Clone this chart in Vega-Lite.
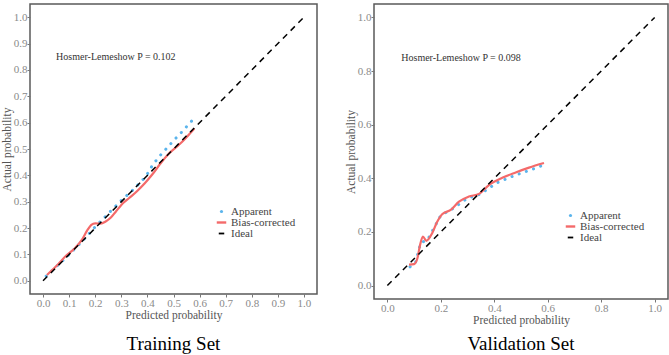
{
  "$schema": "https://vega.github.io/schema/vega-lite/v6.json",
  "background": "white",
  "padding": {"left": 0, "top": 3, "right": 1, "bottom": 0},
  "spacing": 26,
  "config": {
    "view": {"stroke": "#5a5a5a", "strokeWidth": 1.5},
    "axis": {
      "grid": false,
      "domain": false,
      "tickColor": "#777777",
      "tickSize": 3,
      "labelFont": "Liberation Serif",
      "labelFontSize": 11,
      "labelColor": "#8a8a8a",
      "labelPadding": 0,
      "titleFont": "Liberation Serif",
      "titleFontSize": 11.5,
      "titleFontWeight": "normal",
      "titleColor": "#555555",
      "titlePadding": 1
    },
    "axisX": {"titlePadding": 1},
    "legend": {
      "labelFont": "Liberation Serif",
      "labelFontSize": 11,
      "labelColor": "#444444",
      "rowPadding": -2,
      "symbolOffset": 0
    },
    "title": {
      "font": "Liberation Serif",
      "fontSize": 19,
      "fontWeight": "normal",
      "color": "#000000",
      "orient": "bottom",
      "anchor": "middle",
      "frame": "group"
    }
  },
  "datasets": {
    "training": [
      {"curve": "Apparent", "p": 0.012, "a": 0.018},
      {"curve": "Apparent", "p": 0.06, "a": 0.062},
      {"curve": "Apparent", "p": 0.1, "a": 0.1},
      {"curve": "Apparent", "p": 0.15, "a": 0.15},
      {"curve": "Apparent", "p": 0.2, "a": 0.205},
      {"curve": "Apparent", "p": 0.257, "a": 0.262},
      {"curve": "Apparent", "p": 0.3, "a": 0.305},
      {"curve": "Apparent", "p": 0.345, "a": 0.345},
      {"curve": "Apparent", "p": 0.384, "a": 0.385},
      {"curve": "Apparent", "p": 0.403, "a": 0.41},
      {"curve": "Apparent", "p": 0.42, "a": 0.44},
      {"curve": "Apparent", "p": 0.457, "a": 0.485},
      {"curve": "Apparent", "p": 0.479, "a": 0.508},
      {"curve": "Apparent", "p": 0.5, "a": 0.532},
      {"curve": "Apparent", "p": 0.523, "a": 0.555},
      {"curve": "Apparent", "p": 0.544, "a": 0.578},
      {"curve": "Apparent", "p": 0.564, "a": 0.6},
      {"curve": "Apparent", "p": 0.584, "a": 0.622},
      {"curve": "Bias-corrected", "p": 0.015, "a": 0.022},
      {"curve": "Bias-corrected", "p": 0.05, "a": 0.055},
      {"curve": "Bias-corrected", "p": 0.09, "a": 0.097},
      {"curve": "Bias-corrected", "p": 0.12, "a": 0.122},
      {"curve": "Bias-corrected", "p": 0.15, "a": 0.157},
      {"curve": "Bias-corrected", "p": 0.17, "a": 0.192},
      {"curve": "Bias-corrected", "p": 0.185, "a": 0.212},
      {"curve": "Bias-corrected", "p": 0.2, "a": 0.218},
      {"curve": "Bias-corrected", "p": 0.22, "a": 0.217},
      {"curve": "Bias-corrected", "p": 0.24, "a": 0.225},
      {"curve": "Bias-corrected", "p": 0.26, "a": 0.24},
      {"curve": "Bias-corrected", "p": 0.28, "a": 0.264},
      {"curve": "Bias-corrected", "p": 0.3, "a": 0.288},
      {"curve": "Bias-corrected", "p": 0.33, "a": 0.314},
      {"curve": "Bias-corrected", "p": 0.36, "a": 0.34},
      {"curve": "Bias-corrected", "p": 0.39, "a": 0.37},
      {"curve": "Bias-corrected", "p": 0.42, "a": 0.405},
      {"curve": "Bias-corrected", "p": 0.45, "a": 0.445},
      {"curve": "Bias-corrected", "p": 0.48, "a": 0.48},
      {"curve": "Bias-corrected", "p": 0.52, "a": 0.515},
      {"curve": "Bias-corrected", "p": 0.55, "a": 0.545},
      {"curve": "Bias-corrected", "p": 0.58, "a": 0.578},
      {"curve": "Ideal", "p": 0, "a": 0},
      {"curve": "Ideal", "p": 1, "a": 1}
    ],
    "validation": [
      {"curve": "Apparent", "p": 0.085, "a": 0.07},
      {"curve": "Apparent", "p": 0.105, "a": 0.085},
      {"curve": "Apparent", "p": 0.125, "a": 0.16},
      {"curve": "Apparent", "p": 0.15, "a": 0.17},
      {"curve": "Apparent", "p": 0.2, "a": 0.262},
      {"curve": "Apparent", "p": 0.25, "a": 0.29},
      {"curve": "Apparent", "p": 0.3, "a": 0.326},
      {"curve": "Apparent", "p": 0.345, "a": 0.34},
      {"curve": "Apparent", "p": 0.385, "a": 0.366},
      {"curve": "Apparent", "p": 0.405, "a": 0.381},
      {"curve": "Apparent", "p": 0.436, "a": 0.394},
      {"curve": "Apparent", "p": 0.465, "a": 0.406},
      {"curve": "Apparent", "p": 0.492, "a": 0.416},
      {"curve": "Apparent", "p": 0.524, "a": 0.427},
      {"curve": "Apparent", "p": 0.555, "a": 0.438},
      {"curve": "Apparent", "p": 0.58, "a": 0.448},
      {"curve": "Bias-corrected", "p": 0.081, "a": 0.078},
      {"curve": "Bias-corrected", "p": 0.1, "a": 0.08},
      {"curve": "Bias-corrected", "p": 0.112, "a": 0.1},
      {"curve": "Bias-corrected", "p": 0.122, "a": 0.15},
      {"curve": "Bias-corrected", "p": 0.133, "a": 0.183},
      {"curve": "Bias-corrected", "p": 0.146, "a": 0.167},
      {"curve": "Bias-corrected", "p": 0.168, "a": 0.196},
      {"curve": "Bias-corrected", "p": 0.185, "a": 0.235},
      {"curve": "Bias-corrected", "p": 0.206, "a": 0.267},
      {"curve": "Bias-corrected", "p": 0.237, "a": 0.282},
      {"curve": "Bias-corrected", "p": 0.268, "a": 0.313},
      {"curve": "Bias-corrected", "p": 0.305, "a": 0.332},
      {"curve": "Bias-corrected", "p": 0.343, "a": 0.342},
      {"curve": "Bias-corrected", "p": 0.38, "a": 0.375},
      {"curve": "Bias-corrected", "p": 0.43, "a": 0.402},
      {"curve": "Bias-corrected", "p": 0.48, "a": 0.422},
      {"curve": "Bias-corrected", "p": 0.53, "a": 0.44},
      {"curve": "Bias-corrected", "p": 0.586, "a": 0.457},
      {"curve": "Ideal", "p": 0, "a": 0},
      {"curve": "Ideal", "p": 1, "a": 1}
    ]
  },
  "resolve": {"scale": {"color": "independent"}, "legend": {"color": "independent"}},
  "hconcat": [
    {
      "title": {"text": "Training Set", "offset": 14},
      "width": 287,
      "height": 290,
      "data": {"name": "training"},
      "encoding": {
        "x": {"field": "p", "type": "quantitative", "title": "Predicted probability",
              "scale": {"domain": [-0.05, 1.05], "nice": false, "zero": false},
              "axis": {"values": [0, 0.1, 0.2, 0.3, 0.4, 0.5, 0.6, 0.7, 0.8, 0.9, 1.0], "format": ".1f"}},
        "y": {"field": "a", "type": "quantitative", "title": "Actual probability",
              "scale": {"domain": [-0.05, 1.05], "nice": false, "zero": false},
              "axis": {"values": [0, 0.1, 0.2, 0.3, 0.4, 0.5, 0.6, 0.7, 0.8, 0.9, 1.0], "format": ".1f"}}
      },
      "layer": [
        {
          "transform": [{"filter": "datum.curve === 'Apparent'"}],
          "mark": {"type": "line", "strokeWidth": 3, "strokeDash": [0.1, 7.5], "strokeCap": "round"},
          "encoding": {
            "color": {"field": "curve", "type": "nominal",
                      "scale": {"domain": ["Apparent", "Bias-corrected", "Ideal"], "range": ["#5AB4EC", "#F46A6A", "#000000"]},
                      "legend": {"title": null, "orient": "none", "legendX": 186, "legendY": 202, "symbolType": "stroke",
                                 "encode": {"symbols": {"update": {
                                   "shape": {"signal": "datum.value === 'Apparent' ? 'circle' : 'stroke'"},
                                   "size": {"signal": "datum.value === 'Apparent' ? 10 : datum.value === 'Ideal' ? 30 : 90"},
                                   "fill": {"signal": "datum.value === 'Apparent' ? '#5AB4EC' : 'transparent'"},
                                   "strokeWidth": {"signal": "datum.value === 'Apparent' ? 0 : datum.value === 'Ideal' ? 1.8 : 2.4"}
                                 }}}}}
          }
        },
        {
          "transform": [{"filter": "datum.curve === 'Bias-corrected'"}],
          "mark": {"type": "line", "strokeWidth": 2.2, "interpolate": "monotone"},
          "encoding": {"color": {"field": "curve", "type": "nominal"}}
        },
        {
          "transform": [{"filter": "datum.curve === 'Ideal'"}],
          "mark": {"type": "line", "strokeWidth": 1.5, "strokeDash": [6, 5]},
          "encoding": {"color": {"field": "curve", "type": "nominal"}}
        },
        {
          "data": {"values": [{"p": 0.05, "a": 0.85, "label": "Hosmer-Lemeshow  P  =  0.102"}]},
          "mark": {"type": "text", "align": "left", "baseline": "middle", "font": "Liberation Serif", "fontSize": 10, "color": "#333333"},
          "encoding": {"text": {"field": "label"}}
        }
      ]
    },
    {
      "title": {"text": "Validation Set", "offset": 9},
      "width": 294,
      "height": 295,
      "data": {"name": "validation"},
      "encoding": {
        "x": {"field": "p", "type": "quantitative", "title": "Predicted probability",
              "scale": {"domain": [-0.05, 1.05], "nice": false, "zero": false},
              "axis": {"values": [0, 0.2, 0.4, 0.6, 0.8, 1.0], "format": ".1f"}},
        "y": {"field": "a", "type": "quantitative", "title": "Actual probability",
              "scale": {"domain": [-0.05, 1.05], "nice": false, "zero": false},
              "axis": {"values": [0, 0.2, 0.4, 0.6, 0.8, 1.0], "format": ".1f"}}
      },
      "layer": [
        {
          "transform": [{"filter": "datum.curve === 'Apparent'"}],
          "mark": {"type": "line", "strokeWidth": 3, "strokeDash": [0.1, 7.5], "strokeCap": "round"},
          "encoding": {
            "color": {"field": "curve", "type": "nominal",
                      "scale": {"domain": ["Apparent", "Bias-corrected", "Ideal"], "range": ["#5AB4EC", "#F46A6A", "#000000"]},
                      "legend": {"title": null, "orient": "none", "legendX": 191, "legendY": 206, "symbolType": "stroke",
                                 "encode": {"symbols": {"update": {
                                   "shape": {"signal": "datum.value === 'Apparent' ? 'circle' : 'stroke'"},
                                   "size": {"signal": "datum.value === 'Apparent' ? 10 : datum.value === 'Ideal' ? 30 : 90"},
                                   "fill": {"signal": "datum.value === 'Apparent' ? '#5AB4EC' : 'transparent'"},
                                   "strokeWidth": {"signal": "datum.value === 'Apparent' ? 0 : datum.value === 'Ideal' ? 1.8 : 2.4"}
                                 }}}}}
          }
        },
        {
          "transform": [{"filter": "datum.curve === 'Bias-corrected'"}],
          "mark": {"type": "line", "strokeWidth": 2.2, "interpolate": "monotone"},
          "encoding": {"color": {"field": "curve", "type": "nominal"}}
        },
        {
          "transform": [{"filter": "datum.curve === 'Ideal'"}],
          "mark": {"type": "line", "strokeWidth": 1.5, "strokeDash": [6, 5]},
          "encoding": {"color": {"field": "curve", "type": "nominal"}}
        },
        {
          "data": {"values": [{"p": 0.052, "a": 0.85, "label": "Hosmer-Lemeshow  P  =  0.098"}]},
          "mark": {"type": "text", "align": "left", "baseline": "middle", "font": "Liberation Serif", "fontSize": 10, "color": "#333333"},
          "encoding": {"text": {"field": "label"}}
        }
      ]
    }
  ]
}
